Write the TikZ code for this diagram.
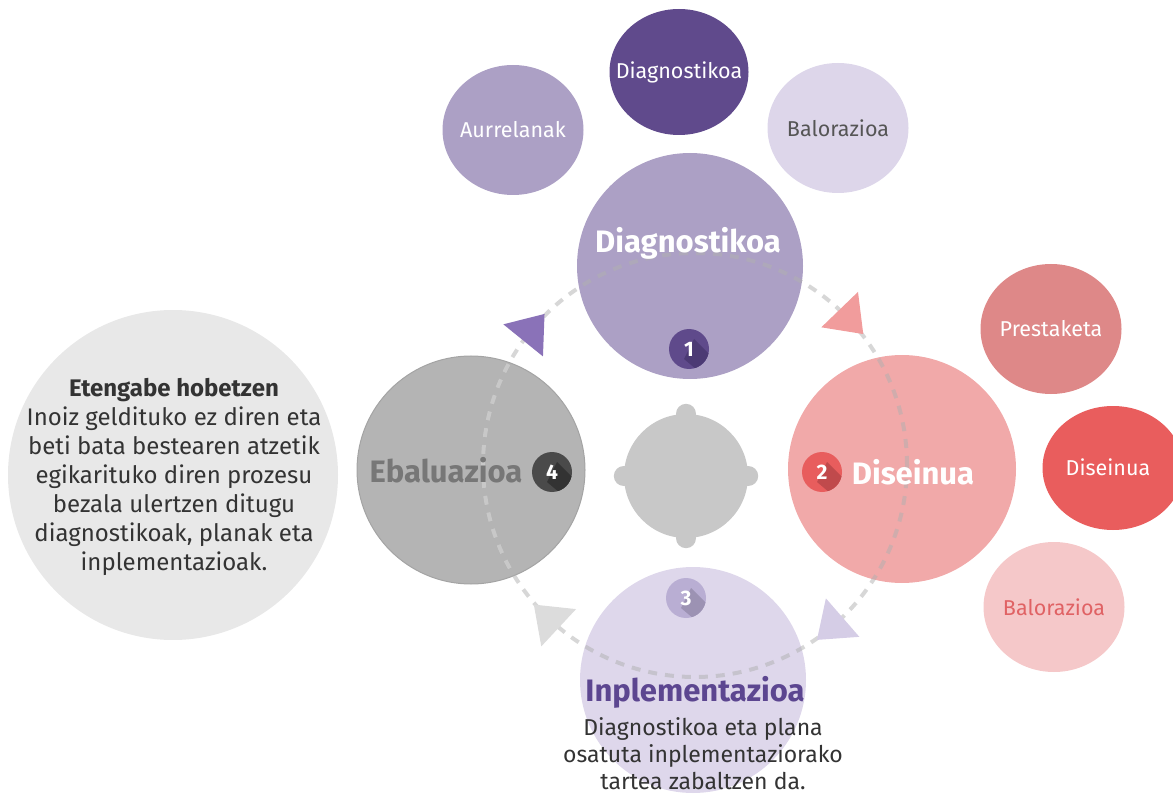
\documentclass[tikz,border=0pt]{standalone}
\usepackage{fontspec}
\setmainfont{Fira Sans}
\usetikzlibrary{shapes.geometric,calc}
\definecolor{cPurLight}{HTML}{ACA0C5}
\definecolor{cPurDark}{HTML}{604A8C}
\definecolor{cPurPale}{HTML}{DDD6EA}
\definecolor{cPinkMid}{HTML}{DE8888}
\definecolor{cRed}{HTML}{E95D5D}
\definecolor{cPinkPale}{HTML}{F5C8C9}
\definecolor{cPinkBig}{HTML}{F1A9A9}
\definecolor{cGrayBig}{HTML}{B4B4B4}
\definecolor{cGrayLine}{HTML}{A4A4A4}
\definecolor{cGrayPale}{HTML}{E8E8E8}
\definecolor{cGear}{HTML}{C8C8C8}
\definecolor{cLav}{HTML}{DED7EB}
\definecolor{cDash}{HTML}{B0B0B0}
\definecolor{cTriPur}{HTML}{8A72B8}
\definecolor{cTriPink}{HTML}{F19C9C}
\definecolor{cTriLav}{HTML}{D5CDE6}
\definecolor{cTriGray}{HTML}{DCDCDC}
\definecolor{cB1}{HTML}{5F4A8B}
\definecolor{cB1s}{HTML}{4C3A74}
\definecolor{cB2}{HTML}{E85D5D}
\definecolor{cB2s}{HTML}{C04A4C}
\definecolor{cB3}{HTML}{B9AED3}
\definecolor{cB3s}{HTML}{9C92B3}
\definecolor{cB4}{HTML}{4A4A4A}
\definecolor{cB4s}{HTML}{333333}
\definecolor{cTxt}{HTML}{333333}
\definecolor{cTxtGray}{HTML}{555555}
\definecolor{cEbal}{HTML}{777777}
\definecolor{cInpl}{HTML}{5C4690}
\definecolor{cBalRed}{HTML}{E06264}
\begin{document}
\begin{tikzpicture}[x=1pt,y=-1pt,
  small/.style={ellipse,inner sep=0pt,minimum width=141pt,minimum height=130pt},
  big/.style={circle,inner sep=0pt,minimum size=#1},
  smalltxt/.style={font=\fontsize{21.5}{25}\selectfont},
  bigtxt/.style={font=\fontsize{31}{36}\selectfont\bfseries},
  bodytxt/.style={font=\fontsize{23}{27}\selectfont,align=center,text=cTxt,inner sep=0pt},
  infotxtstyle/.style={font=\fontsize{24}{29}\selectfont,align=center,text=cTxt},
  badge/.style={circle,inner sep=0pt,minimum size=40pt},
  badgetxt/.style={font=\fontsize{21}{24}\selectfont\bfseries,text=white},
  dashline/.style={draw=cDash,draw opacity=0.5,line width=4pt,dash pattern=on 9pt off 8pt},
  knob/.style={circle,fill=cGear,inner sep=0pt,minimum size=20pt}]
\useasboundingbox (0,0) rectangle (1173,794);

% left info circle
\node[big=330pt,fill=cGrayPale] (info) at (173,475) {};
\node[infotxtstyle] (infotxt) at (174,477) {\textbf{Etengabe hobetzen}\\Inoiz geldituko ez diren eta\\beti bata bestearen atzetik\\egikarituko diren prozesu\\bezala ulertzen ditugu\\diagnostikoak, planak eta\\inplementazioak.};

% small circles
\node[small,fill=cPurLight] (aurre) at (513,130) {};
\node[small,fill=cPurDark,minimum height=126pt,minimum width=139pt] (sdiag) at (679,72) {};
\node[small,fill=cPurPale] (sbal) at (838,128) {};
\node[small,fill=cPinkMid] (prest) at (1051,329) {};
\node[small,fill=cRed,minimum height=124pt] (sdis) at (1113,468) {};
\node[small,fill=cPinkPale] (pbal) at (1054,607) {};

% center gear
\node[big=124pt,fill=cGear] (gear) at (686,476) {};
\node[knob] (k1) at (gear.north) {};
\node[knob] (k2) at (gear.south) {};
\node[knob] (k3) at (gear.west) {};
\node[knob] (k4) at (gear.east) {};

% big circles
\node[big=226pt,fill=cPurLight] (diag) at (690,266) {};
\node[big=228pt,fill=cPinkBig] (dis) at (902,469) {};
\node[big=228pt,fill=cGrayBig,draw=cGrayLine,line width=1pt] (ebal) at (471,470) {};
\node[big=226pt,fill=cLav] (inpl) at (693,680) {};

% dashed cycle
\coordinate (dc) at (695,465);
\draw[dashline] (dc) circle (212pt);
\begin{scope}
  \clip (ebal) circle (113pt);
  \draw[draw=cGear,line width=4pt,dash pattern=on 9pt off 8pt] (dc) circle (212pt);
\end{scope}

% arrow triangles
\foreach \ang/\col in {44/cTriPink,141/cTriPur,-49/cTriLav,-133/cTriGray}{
  \fill[\col,shift={($(dc)+(\ang:212pt)$)},rotate=\ang-90]
    (22.7pt,0pt) -- (-11.3pt,25.5pt) -- (-11.3pt,-25.5pt) -- cycle;
}

% badges
\foreach \nm/\px/\py/\c/\s/\n in {b1/689/349/cB1/cB1s/1,b2/822/472/cB2/cB2s/2,b3/686/598/cB3/cB3s/3,b4/552/472/cB4/cB4s/4}{
  \node[badge,fill=\c] (\nm) at (\px,\py) {};
  \begin{scope}
    \clip (\nm) circle (20pt);
    \fill[\s] ($(\nm)+(5pt,10pt)$) -- ++(40pt,-40pt) -- ++(-12pt,-12pt) -- ($(\nm)+(-5pt,-10pt)$) -- cycle;
  \end{scope}
  \node[badgetxt] at (\nm) {\n};
}

% texts
\node[bigtxt,text=white] (tdiag) at (688,243) {Diagnostikoa};
\node[bigtxt,text=white] (tdis) at (913,472) {Diseinua};
\node[bigtxt,text=cEbal] (tebal) at (446,470) {Ebaluazioa};
\node[bigtxt,text=cInpl] (tinpl) at (695,692) {Inplementazioa};
\node[bodytxt] (tinpldesc) at (703,754) {Diagnostikoa eta plana\\osatuta inplementaziorako\\tartea zabaltzen da.};

\node[smalltxt,text=white] at (aurre) {Aurrelanak};
\node[smalltxt,text=white] at (sdiag) {Diagnostikoa};
\node[smalltxt,text=cTxtGray] at (sbal) {Balorazioa};
\node[smalltxt,text=white] at (prest) {Prestaketa};
\node[smalltxt,text=white] at (1108,467) {Diseinua};
\node[smalltxt,text=cBalRed] at (pbal) {Balorazioa};
\end{tikzpicture}
\end{document}
